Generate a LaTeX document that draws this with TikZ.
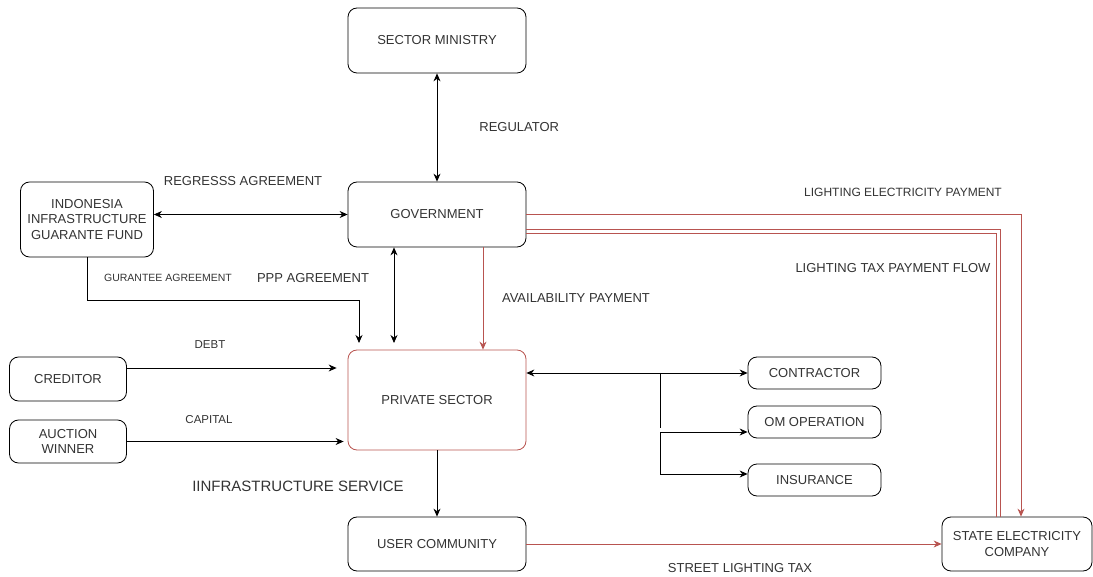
\documentclass[tikz,border=0pt]{standalone}
\usepackage{fontspec}
\setmainfont{Liberation Sans}
\usetikzlibrary{arrows.meta,calc,positioning}

\definecolor{payred}{HTML}{B85450}
\definecolor{txtgray}{HTML}{333333}

\tikzset{
  box/.style={rectangle,draw,rounded corners=9pt,align=center,inner sep=0pt,
    line width=0.8pt,text=txtgray,font=\fontsize{13}{15.5}\selectfont},
  lbl/.style={text=txtgray,inner sep=0pt,font=\fontsize{13}{15.5}\selectfont},
  flow/.style={line width=0.8pt,>={Stealth[length=8pt,width=7pt]}},
  pay/.style={flow,draw=payred},
}

\begin{document}
\begin{tikzpicture}[x=1pt,y=-1pt]
        %\draw [help lines] (0,0) grid (1093,577);
        \useasboundingbox (0,0) rectangle (1093,577);

        \node [box,minimum width=178pt,minimum height=65pt] (min) at (437,40.5) {SECTOR MINISTRY};
        \node [box,minimum width=178pt,minimum height=65pt] (gov) at (437,214.5) {GOVERNMENT};
        \node [box,minimum width=133pt,minimum height=75pt] (fund) at (87,219.5) {INDONESIA\\INFRASTRUCTURE\\GUARANTE FUND};
        \node [box,draw=payred,minimum width=178pt,minimum height=100pt] (priv) at (437,400) {PRIVATE SECTOR};
        \node [box,minimum width=178pt,minimum height=54pt] (user) at (437,544) {USER COMMUNITY};
        \node [box,minimum width=117pt,minimum height=44pt] (cred) at (68,379) {CREDITOR};
        \node [box,minimum width=117pt,minimum height=43pt] (auct) at (68,441.5) {AUCTION\\WINNER};
        \node [box,minimum width=133pt,minimum height=32pt] (contr) at (814.5,373) {CONTRACTOR};
        \node [box,minimum width=133pt,minimum height=32pt] (om) at (814.5,422) {OM OPERATION};
        \node [box,minimum width=133pt,minimum height=32pt] (ins) at (814.5,480) {INSURANCE};
        \node [box,minimum width=150pt,minimum height=54pt] (sec) at (1017,544) {STATE ELECTRICITY\\COMPANY};

        % regulator
        \draw [flow,<->] (min) -- node[lbl,right=42pt] {REGULATOR} (gov);

        % fund
        \draw [flow,<->] (fund.east |- gov.west) -- (gov.west);
        \node [lbl] (regress) at (243,181) {REGRESSS AGREEMENT};
        \coordinate (gua) at (359,343);
        \draw [flow,->] (fund.south) |- ++(272,43) -- (gua);
        \node [lbl,font=\fontsize{10.5}{12}\selectfont] (guatxt) at (168,278) {GURANTEE AGREEMENT};

        % ppp
        \coordinate (ppp) at (394,343);
        \draw [flow,<->] (ppp |- gov.south) -- (ppp);
        \node [lbl] (ppptxt) at (313,278) {PPP AGREEMENT};

        % availability
        \draw [pay,->] ([xshift=46pt]gov.south) -- ([xshift=46pt]priv.north);
        \node [lbl] (avail) at (576,298) {AVAILABILITY PAYMENT};

        % finance
        \draw [flow,->] ([yshift=11pt]cred.east) -- ([shift={(-11pt,32pt)}]priv.west);
        \node [lbl,font=\fontsize{11.5}{14}\selectfont] (debt) at (210,345) {DEBT};
        \draw [flow,->] (auct.east) -- ([xshift=-4pt]auct.east -| priv.west);
        \node [lbl,font=\fontsize{11.5}{14}\selectfont] (cap) at (209,420) {CAPITAL};

        % contracts
        \draw [flow,<->] (priv.east |- contr.west) -- (contr.west);
        \coordinate (split) at (660,373);
        \coordinate (omjoin) at (660,432);
        \draw [flow] (split) -- (660,428);
        \draw [flow,->] (omjoin) -- (omjoin -| om.west);
        \draw [flow,->] (omjoin) |- ([yshift=6pt]ins.west);

        % service
        \draw [flow,->] (priv) -- (user);
        \node [lbl,font=\fontsize{15}{18}\selectfont] (serv) at (298,486) {IINFRASTRUCTURE SERVICE};

        % lighting
        \draw [pay,->] (user) -- (sec);
        \node [lbl] (tax) at (740,568) {STREET LIGHTING TAX};
        \draw [pay,->] (gov.east |- 0,214) -| ([xshift=4pt]sec.north);
        \node [lbl,font=\fontsize{12}{14}\selectfont] (elec) at (903,192) {LIGHTING ELECTRICITY PAYMENT};
        \draw [pay] (gov.east |- 0,229) -| ([xshift=-17pt]sec.north);
        \draw [pay] (gov.east |- 0,233) -| ([xshift=-21pt]sec.north);
        \node [lbl] (flowtxt) at (893,268) {LIGHTING TAX PAYMENT FLOW};

    \end{tikzpicture}
\end{document}
